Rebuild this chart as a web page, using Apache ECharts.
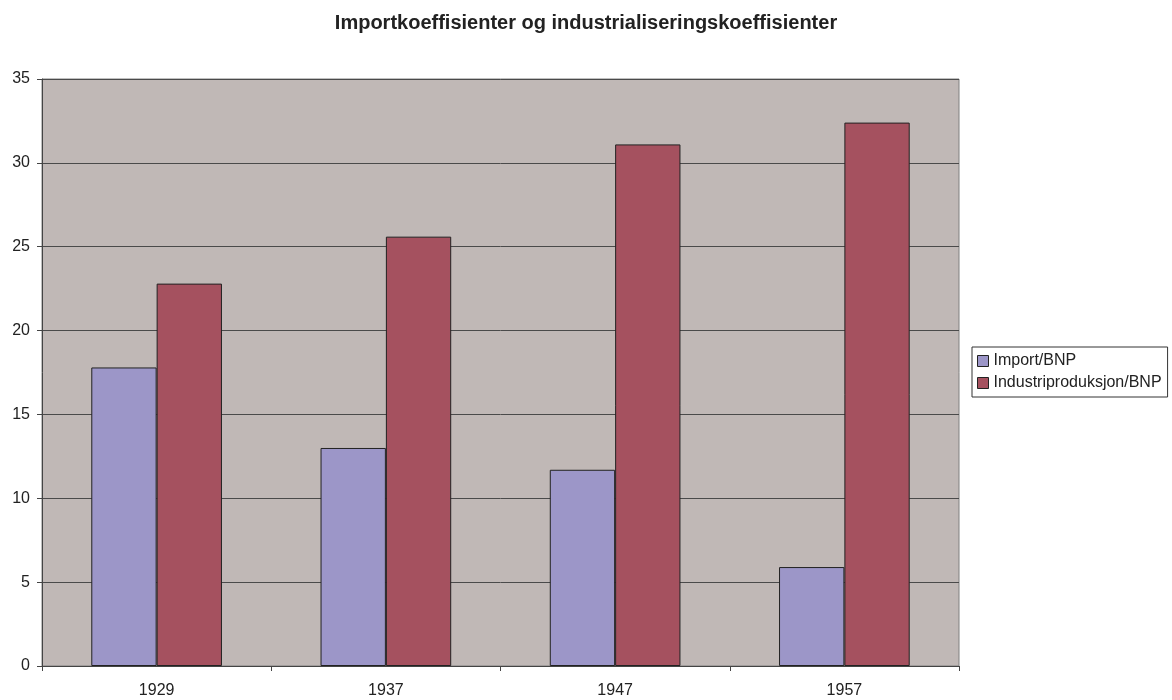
<!DOCTYPE html>
<html lang="no">
<head>
  <meta charset="UTF-8">
  <title>Importkoeffisienter</title>
  <script src="https://cdn.jsdelivr.net/npm/echarts@6/dist/echarts.min.js"></script>
  <style>
    html, body { margin: 0; padding: 0; background: #fff; }
    #main { width: 1172px; height: 700px; }
  </style>
</head>
<body>
  <div id="main"></div>
  <script>
    var years = ['1929', '1937', '1947', '1957']
    var importBnp = [17.8, 13.0, 11.7, 5.9]
    var industriBnp = [22.8, 25.6, 31.1, 32.4]

    var mCharts = echarts.init(document.getElementById('main'))
    var font = 'Liberation Sans, Arial, sans-serif'

    var option = {
      backgroundColor: '#fff',
      textStyle: { fontFamily: font },
      title: {
        text: 'Importkoeffisienter og industrialiseringskoeffisienter',
        left: 'center',
        top: 8,
        textStyle: { fontSize: 20, fontWeight: 'bold', color: '#222', fontFamily: font }
      },
      legend: {
        orient: 'vertical',
        left: 972,
        top: 347,
        padding: [6, 6, 6, 5],
        itemGap: 6,
        itemWidth: 11,
        itemHeight: 11,
        borderColor: '#333',
        borderWidth: 1,
        icon: 'rect',
        textStyle: { fontSize: 16, color: '#222', fontFamily: font },
        itemStyle: { borderColor: '#222', borderWidth: 1 },
        data: ['Import/BNP', 'Industriproduksjon/BNP']
      },
      grid: {
        left: 42,
        top: 79,
        width: 917,
        height: 587,
        show: true,
        backgroundColor: '#C0B8B6',
        borderColor: '#808080',
        borderWidth: 1,
        containLabel: false
      },
      xAxis: {
        type: 'category',
        data: years,
        axisLine: { lineStyle: { color: '#444' } },
        axisTick: { show: true, length: 5, lineStyle: { color: '#444' } },
        axisLabel: { color: '#222', fontSize: 16, margin: 17 }
      },
      yAxis: {
        type: 'value',
        min: 0,
        max: 35,
        interval: 5,
        axisLine: { show: true, lineStyle: { color: '#444' } },
        axisTick: { show: true, length: 5, lineStyle: { color: '#444' } },
        axisLabel: { color: '#222', fontSize: 16, margin: 12 },
        splitLine: { lineStyle: { color: '#4a4a4a', width: 1 } }
      },
      series: [
        {
          name: 'Import/BNP',
          type: 'bar',
          data: importBnp,
          barGap: '0%',
          barCategoryGap: '43%',
          itemStyle: { color: '#9C96C8', borderColor: '#222', borderWidth: 1 }
        },
        {
          name: 'Industriproduksjon/BNP',
          type: 'bar',
          data: industriBnp,
          barGap: '0%',
          barCategoryGap: '43%',
          itemStyle: { color: '#A5515F', borderColor: '#222', borderWidth: 1 }
        }
      ]
    }
    mCharts.setOption(option)
  </script>
</body>
</html>
